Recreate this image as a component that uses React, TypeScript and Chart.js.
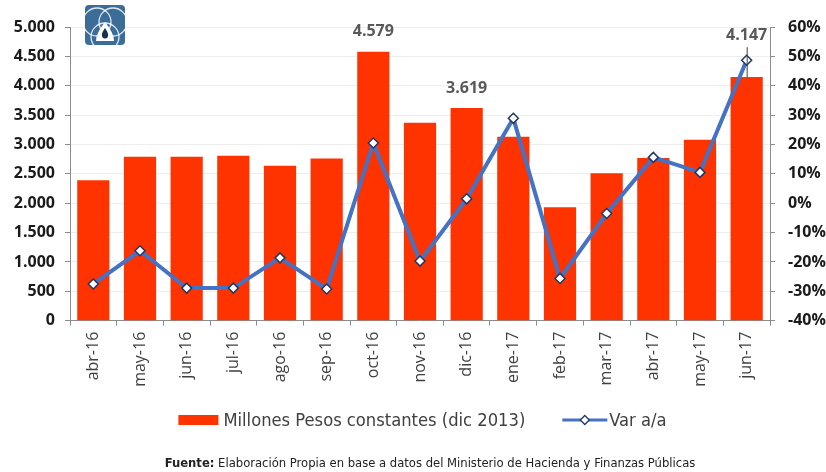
import React, { useEffect, useRef } from "react";
import { Chart, registerables } from "chart.js";

Chart.register(...registerables);

const categories = ["abr-16", "may-16", "jun-16", "jul-16", "ago-16", "sep-16", "oct-16", "nov-16", "dic-16", "ene-17", "feb-17", "mar-17", "abr-17", "may-17", "jun-17"];
const montos = [2390, 2790, 2790, 2810, 2640, 2760, 4579, 3370, 3619, 3130, 1930, 2510, 2770, 3080, 4147];
const varAA = [-27.5, -16.2, -28.9, -28.9, -18.6, -29.2, 20.5, -19.7, 1.5, 28.9, -25.6, -3.5, 15.6, 10.5, 48.7];
const etiquetasIdx = [6, 8, 14];
const leftMin = 0;
const leftMax = 5000;
const leftStep = 500;
const rightMin = -40;
const rightMax = 60;
const rightStep = 10;
const serieBarras = "Millones Pesos constantes (dic 2013)";
const serieLinea = "Var a/a";
const fuenteBold = "Fuente:";
const fuenteTexto = " Elaboración Propia en base a datos del Ministerio de Hacienda y Finanzas Públicas";

const RED = "#FF3300";
const BLUE = "#4472C4";
const NAVY = "#1F3864";
const NARROW = '"Liberation Sans Narrow", "DejaVu Sans Condensed", "Liberation Sans", sans-serif';

const fmtMiles = (v: number) => String(v).replace(/\B(?=(\d{3})+(?!\d))/g, ".");

const decoPlugin = {
  id: "deco",
  afterDatasetsDraw(chart: any) {
    const ctx = chart.ctx;
    const x = chart.scales.x;
    const yL = chart.scales.y;
    const yR = chart.scales.y1;
    ctx.save();
    ctx.font = 'bold 16px "Open Sans", sans-serif';
    ctx.fillStyle = "#595959";
    ctx.textAlign = "center";
    ctx.textBaseline = "middle";
    etiquetasIdx.forEach((i) => {
      const cx = x.getPixelForValue(i);
      const barTop = yL.getPixelForValue(montos[i]);
      const pt = yR.getPixelForValue(varAA[i]);
      let ly = barTop - 20;
      if (pt < barTop) ly = Math.min(ly, pt - 25);
      ctx.fillText(fmtMiles(montos[i]), cx, ly);
      if (barTop - ly > 28) {
        ctx.strokeStyle = "#404040";
        ctx.lineWidth = 1;
        ctx.beginPath();
        ctx.moveTo(cx + 0.5, ly + 12);
        ctx.lineTo(cx + 0.5, barTop);
        ctx.stroke();
      }
    });
    ctx.restore();
  },
  afterDraw(chart: any) {
    const ctx = chart.ctx;
    ctx.save();
    // logo
    const lx = 85, ly = 5, ls = 40;
    ctx.beginPath();
    ctx.roundRect(lx, ly, ls, ls, 4);
    ctx.fillStyle = "#3b6d98";
    ctx.fill();
    ctx.save();
    ctx.clip();
    ctx.strokeStyle = "rgba(255,255,255,0.85)";
    ctx.lineWidth = 1.3;
    [[lx + 12, ly + 17], [lx + 28, ly + 17], [lx + 20, ly + 32]].forEach(([cx, cy]) => {
      ctx.beginPath();
      ctx.arc(cx, cy, 14, 0, Math.PI * 2);
      ctx.stroke();
    });
    ctx.fillStyle = "#ffffff";
    ctx.beginPath();
    ctx.moveTo(lx + 20, ly + 17);
    ctx.quadraticCurveTo(lx + 29, ly + 28, lx + 29, ly + 36);
    ctx.lineTo(lx + 11, ly + 36);
    ctx.quadraticCurveTo(lx + 11, ly + 28, lx + 20, ly + 17);
    ctx.fill();
    ctx.fillStyle = "#16324f";
    ctx.beginPath();
    ctx.moveTo(lx + 20, ly + 23);
    ctx.quadraticCurveTo(lx + 24, ly + 29, lx + 23, ly + 31);
    ctx.arc(lx + 20, ly + 30.5, 3, 0, Math.PI);
    ctx.quadraticCurveTo(lx + 16, ly + 29, lx + 20, ly + 23);
    ctx.fill();
    ctx.restore();

    // legend
    const legY = 420;
    ctx.font = "18.2px " + NARROW;
    ctx.textBaseline = "middle";
    ctx.textAlign = "left";
    const w1 = ctx.measureText(serieBarras).width;
    const w2 = ctx.measureText(serieLinea).width;
    const boxW = 40, gap1 = 5, gapMid = 37, lineW = 45, gap2 = 2;
    const total = boxW + gap1 + w1 + gapMid + lineW + gap2 + w2;
    let cx = 422.5 - total / 2;
    ctx.fillStyle = RED;
    ctx.fillRect(cx, legY - 5, boxW, 10);
    cx += boxW + gap1;
    ctx.fillStyle = "#404040";
    ctx.fillText(serieBarras, cx, legY + 1);
    cx += w1 + gapMid;
    ctx.strokeStyle = BLUE;
    ctx.lineWidth = 3;
    ctx.beginPath();
    ctx.moveTo(cx, legY);
    ctx.lineTo(cx + lineW, legY);
    ctx.stroke();
    const mx = cx + lineW / 2;
    ctx.beginPath();
    ctx.moveTo(mx, legY - 4.5);
    ctx.lineTo(mx + 4.5, legY);
    ctx.lineTo(mx, legY + 4.5);
    ctx.lineTo(mx - 4.5, legY);
    ctx.closePath();
    ctx.fillStyle = "#fff";
    ctx.fill();
    ctx.lineWidth = 1.3;
    ctx.strokeStyle = NAVY;
    ctx.stroke();
    cx += lineW + gap2;
    ctx.fillStyle = "#404040";
    ctx.fillText(serieLinea, cx, legY + 1);

    // footer
    const fy = 464;
    const fs = "12.9px ";
    ctx.font = "bold " + fs + NARROW;
    const fb = ctx.measureText(fuenteBold).width;
    ctx.font = fs + NARROW;
    const ft = ctx.measureText(fuenteTexto).width;
    const fx = 430 - (fb + ft) / 2;
    ctx.fillStyle = "#222";
    ctx.font = "bold " + fs + NARROW;
    ctx.fillText(fuenteBold, fx, fy);
    ctx.font = fs + NARROW;
    ctx.fillText(fuenteTexto, fx + fb, fy);
    ctx.restore();
  },
};

export default function App() {
  const ref = useRef<HTMLCanvasElement | null>(null);
  useEffect(() => {
    if (!ref.current) return;
    const chart = new Chart(ref.current, {
      data: {
        labels: categories,
        datasets: [
          {
            type: "line" as const,
            label: serieLinea,
            data: varAA,
            yAxisID: "y1",
            borderColor: BLUE,
            borderWidth: 4,
            pointStyle: "rectRot",
            pointRadius: 5,
            pointBackgroundColor: "#ffffff",
            pointBorderColor: NAVY,
            pointBorderWidth: 1.5,
            tension: 0,
            order: 0,
          },
          {
            type: "bar" as const,
            label: serieBarras,
            data: montos,
            yAxisID: "y",
            backgroundColor: RED,
            categoryPercentage: 1,
            barPercentage: 0.69,
            order: 1,
          },
        ],
      },
      options: {
        responsive: false,
        animation: false,
        layout: { padding: { top: 27, bottom: 82, left: 0, right: 0 } },
        plugins: { legend: { display: false }, tooltip: { enabled: false } },
        scales: {
          x: {
            offset: true,
            grid: { display: true, drawOnChartArea: false, offset: true, tickLength: 5, tickColor: "#8c8c8c" },
            border: { color: "#8c8c8c" },
            ticks: {
              maxRotation: 90,
              minRotation: 90,
              padding: 6,
              color: "#404040",
              font: { family: '"Open Sans", sans-serif', size: 16 },
            },
            afterFit: (s: any) => { s.height = 69.3; },
          },
          y: {
            position: "left",
            min: leftMin,
            max: leftMax,
            grid: { color: "rgba(0,0,0,0.07)", tickLength: 5, tickColor: "#8c8c8c" },
            border: { color: "#8c8c8c" },
            ticks: {
              stepSize: leftStep,
              padding: 10,
              color: "#1a1a1a",
              font: { family: '"Open Sans", sans-serif', size: 16, weight: "bold" },
              callback: (v: any) => fmtMiles(Number(v)),
            },
            afterFit: (s: any) => { s.width = 70; },
          },
          y1: {
            position: "right",
            min: rightMin,
            max: rightMax,
            grid: { drawOnChartArea: false, tickLength: 5, tickColor: "#8c8c8c" },
            border: { color: "#8c8c8c" },
            ticks: {
              stepSize: rightStep,
              padding: 13,
              color: "#1a1a1a",
              font: { family: '"Open Sans", sans-serif', size: 16, weight: "bold" },
              callback: (v: any) => `${Math.round(Number(v))}%`,
            },
            afterFit: (s: any) => { s.width = 56; },
          },
        },
      } as any,
      plugins: [decoPlugin],
    });
    return () => chart.destroy();
  }, []);
  return (
    <div style={{ position: "fixed", left: 0, top: 0, width: 826, height: 472, background: "#fff" }}>
      <canvas ref={ref} width={826} height={472} style={{ display: "block" }} />
    </div>
  );
}
